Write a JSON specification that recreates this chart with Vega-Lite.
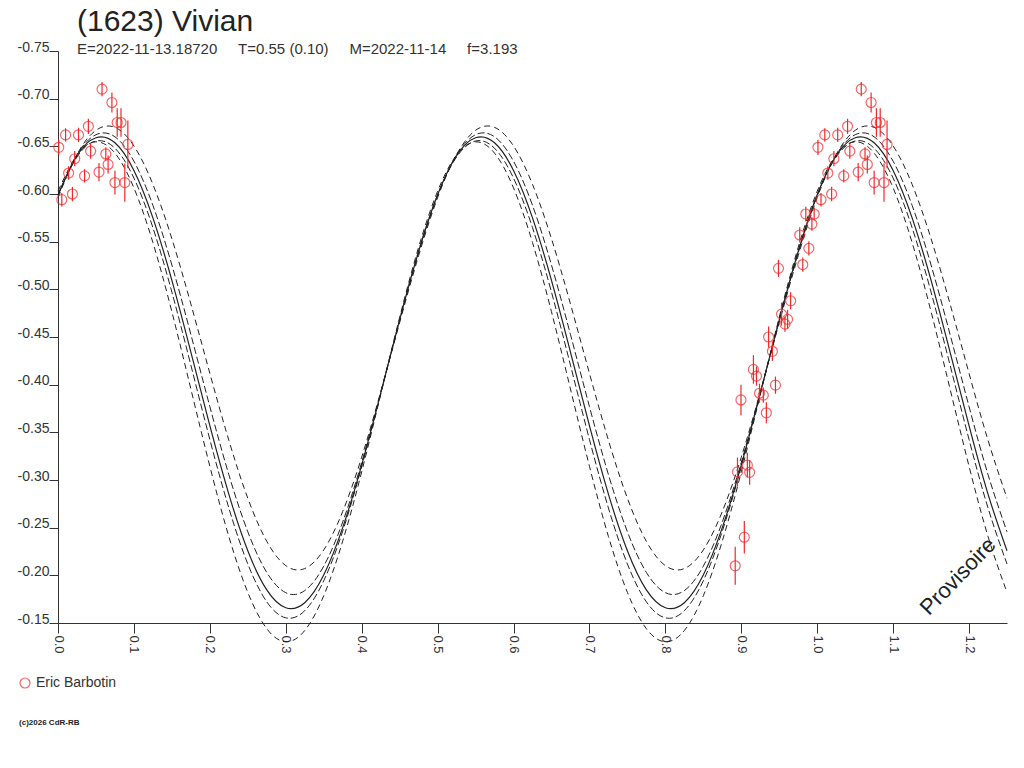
{
  "$schema": "https://vega.github.io/schema/vega-lite/v6.json",
  "autosize": {"type": "none"},
  "padding": {"left": 58, "top": 51, "right": 17, "bottom": 145},
  "width": 949,
  "height": 572,
  "background": "white",
  "title": {
    "text": "(1623) Vivian",
    "subtitle": "E=2022-11-13.18720\u00a0\u00a0\u00a0\u00a0\u00a0T=0.55 (0.10)\u00a0\u00a0\u00a0\u00a0\u00a0M=2022-11-14\u00a0\u00a0\u00a0\u00a0\u00a0f=3.193",
    "anchor": "start",
    "frame": "group",
    "dx": 19,
    "offset": -17,
    "font": "Liberation Sans",
    "fontSize": 30,
    "fontWeight": "normal",
    "color": "#222222",
    "subtitleFont": "Liberation Sans",
    "subtitleFontSize": 15,
    "subtitleColor": "#333333",
    "subtitlePadding": 5
  },
  "datasets": {
    "curve": [
      {"ph": 0.000, "s": -0.5992, "a": -0.5961, "b": -0.5983, "c": -0.5991, "d": -0.6029},
      {"ph": 0.025, "s": -0.6403, "a": -0.6414, "b": -0.6410, "c": -0.6388, "d": -0.6410},
      {"ph": 0.050, "s": -0.6590, "a": -0.6668, "b": -0.6622, "c": -0.6556, "d": -0.6547},
      {"ph": 0.075, "s": -0.6537, "a": -0.6699, "b": -0.6600, "c": -0.6480, "d": -0.6429},
      {"ph": 0.100, "s": -0.6247, "a": -0.6504, "b": -0.6344, "c": -0.6167, "d": -0.6064},
      {"ph": 0.125, "s": -0.5750, "a": -0.6101, "b": -0.5881, "c": -0.5647, "d": -0.5491},
      {"ph": 0.150, "s": -0.5094, "a": -0.5531, "b": -0.5255, "c": -0.4971, "d": -0.4765},
      {"ph": 0.175, "s": -0.4342, "a": -0.4847, "b": -0.4527, "c": -0.4205, "d": -0.3955},
      {"ph": 0.200, "s": -0.3570, "a": -0.4119, "b": -0.3770, "c": -0.3425, "d": -0.3144},
      {"ph": 0.225, "s": -0.2852, "a": -0.3417, "b": -0.3057, "c": -0.2707, "d": -0.2408},
      {"ph": 0.250, "s": -0.2258, "a": -0.2809, "b": -0.2457, "c": -0.2119, "d": -0.1821},
      {"ph": 0.275, "s": -0.1847, "a": -0.2356, "b": -0.2030, "c": -0.1722, "d": -0.1440},
      {"ph": 0.300, "s": -0.1660, "a": -0.2102, "b": -0.1818, "c": -0.1554, "d": -0.1303},
      {"ph": 0.325, "s": -0.1713, "a": -0.2071, "b": -0.1840, "c": -0.1629, "d": -0.1421},
      {"ph": 0.350, "s": -0.2003, "a": -0.2266, "b": -0.2096, "c": -0.1943, "d": -0.1786},
      {"ph": 0.375, "s": -0.2500, "a": -0.2669, "b": -0.2559, "c": -0.2463, "d": -0.2359},
      {"ph": 0.400, "s": -0.3156, "a": -0.3239, "b": -0.3185, "c": -0.3139, "d": -0.3085},
      {"ph": 0.425, "s": -0.3908, "a": -0.3923, "b": -0.3913, "c": -0.3905, "d": -0.3895},
      {"ph": 0.450, "s": -0.4680, "a": -0.4651, "b": -0.4670, "c": -0.4685, "d": -0.4706},
      {"ph": 0.475, "s": -0.5398, "a": -0.5353, "b": -0.5383, "c": -0.5403, "d": -0.5442},
      {"ph": 0.500, "s": -0.5992, "a": -0.5961, "b": -0.5983, "c": -0.5991, "d": -0.6029},
      {"ph": 0.525, "s": -0.6403, "a": -0.6414, "b": -0.6410, "c": -0.6388, "d": -0.6410},
      {"ph": 0.550, "s": -0.6590, "a": -0.6668, "b": -0.6622, "c": -0.6556, "d": -0.6547},
      {"ph": 0.575, "s": -0.6537, "a": -0.6699, "b": -0.6600, "c": -0.6480, "d": -0.6429},
      {"ph": 0.600, "s": -0.6247, "a": -0.6504, "b": -0.6344, "c": -0.6167, "d": -0.6064},
      {"ph": 0.625, "s": -0.5750, "a": -0.6101, "b": -0.5881, "c": -0.5647, "d": -0.5491},
      {"ph": 0.650, "s": -0.5094, "a": -0.5531, "b": -0.5255, "c": -0.4971, "d": -0.4765},
      {"ph": 0.675, "s": -0.4342, "a": -0.4847, "b": -0.4527, "c": -0.4205, "d": -0.3955},
      {"ph": 0.700, "s": -0.3570, "a": -0.4119, "b": -0.3770, "c": -0.3425, "d": -0.3144},
      {"ph": 0.725, "s": -0.2852, "a": -0.3417, "b": -0.3057, "c": -0.2707, "d": -0.2408},
      {"ph": 0.750, "s": -0.2258, "a": -0.2809, "b": -0.2457, "c": -0.2119, "d": -0.1821},
      {"ph": 0.775, "s": -0.1847, "a": -0.2356, "b": -0.2030, "c": -0.1722, "d": -0.1440},
      {"ph": 0.800, "s": -0.1660, "a": -0.2102, "b": -0.1818, "c": -0.1554, "d": -0.1303},
      {"ph": 0.825, "s": -0.1713, "a": -0.2071, "b": -0.1840, "c": -0.1629, "d": -0.1421},
      {"ph": 0.850, "s": -0.2003, "a": -0.2266, "b": -0.2096, "c": -0.1943, "d": -0.1786},
      {"ph": 0.875, "s": -0.2500, "a": -0.2669, "b": -0.2559, "c": -0.2463, "d": -0.2359},
      {"ph": 0.900, "s": -0.3156, "a": -0.3239, "b": -0.3185, "c": -0.3139, "d": -0.3085},
      {"ph": 0.925, "s": -0.3908, "a": -0.3923, "b": -0.3913, "c": -0.3905, "d": -0.3895},
      {"ph": 0.950, "s": -0.4680, "a": -0.4651, "b": -0.4670, "c": -0.4685, "d": -0.4706},
      {"ph": 0.975, "s": -0.5398, "a": -0.5353, "b": -0.5383, "c": -0.5403, "d": -0.5442},
      {"ph": 1.000, "s": -0.5992, "a": -0.5961, "b": -0.5983, "c": -0.5991, "d": -0.6029},
      {"ph": 1.025, "s": -0.6403, "a": -0.6414, "b": -0.6410, "c": -0.6388, "d": -0.6410},
      {"ph": 1.050, "s": -0.6590, "a": -0.6668, "b": -0.6622, "c": -0.6556, "d": -0.6547},
      {"ph": 1.075, "s": -0.6537, "a": -0.6699, "b": -0.6600, "c": -0.6480, "d": -0.6429},
      {"ph": 1.100, "s": -0.6247, "a": -0.6504, "b": -0.6344, "c": -0.6167, "d": -0.6064},
      {"ph": 1.125, "s": -0.5750, "a": -0.6101, "b": -0.5881, "c": -0.5647, "d": -0.5491},
      {"ph": 1.150, "s": -0.5094, "a": -0.5531, "b": -0.5255, "c": -0.4971, "d": -0.4765},
      {"ph": 1.175, "s": -0.4342, "a": -0.4847, "b": -0.4527, "c": -0.4205, "d": -0.3955},
      {"ph": 1.200, "s": -0.3570, "a": -0.4119, "b": -0.3770, "c": -0.3425, "d": -0.3144},
      {"ph": 1.225, "s": -0.2852, "a": -0.3417, "b": -0.3057, "c": -0.2707, "d": -0.2408},
      {"ph": 1.250, "s": -0.2258, "a": -0.2809, "b": -0.2457, "c": -0.2119, "d": -0.1821}
    ],
    "obs": [
      {"phase": 1.058, "mag": -0.710, "err": 0.0075, "observer": "Eric Barbotin"},
      {"phase": 1.071, "mag": -0.696, "err": 0.0105, "observer": "Eric Barbotin"},
      {"phase": 1.078, "mag": -0.675, "err": 0.015, "observer": "Eric Barbotin"},
      {"phase": 1.083, "mag": -0.675, "err": 0.015, "observer": "Eric Barbotin"},
      {"phase": 1.040, "mag": -0.671, "err": 0.008, "observer": "Eric Barbotin"},
      {"phase": 1.010, "mag": -0.662, "err": 0.007, "observer": "Eric Barbotin"},
      {"phase": 1.027, "mag": -0.662, "err": 0.0075, "observer": "Eric Barbotin"},
      {"phase": 1.001, "mag": -0.649, "err": 0.008, "observer": "Eric Barbotin"},
      {"phase": 1.092, "mag": -0.652, "err": 0.025, "observer": "Eric Barbotin"},
      {"phase": 1.043, "mag": -0.645, "err": 0.008, "observer": "Eric Barbotin"},
      {"phase": 1.063, "mag": -0.642, "err": 0.007, "observer": "Eric Barbotin"},
      {"phase": 1.022, "mag": -0.637, "err": 0.008, "observer": "Eric Barbotin"},
      {"phase": 1.066, "mag": -0.631, "err": 0.0095, "observer": "Eric Barbotin"},
      {"phase": 1.014, "mag": -0.622, "err": 0.007, "observer": "Eric Barbotin"},
      {"phase": 1.035, "mag": -0.619, "err": 0.007, "observer": "Eric Barbotin"},
      {"phase": 1.054, "mag": -0.623, "err": 0.0095, "observer": "Eric Barbotin"},
      {"phase": 1.075, "mag": -0.612, "err": 0.0125, "observer": "Eric Barbotin"},
      {"phase": 1.088, "mag": -0.612, "err": 0.020, "observer": "Eric Barbotin"},
      {"phase": 1.019, "mag": -0.600, "err": 0.0075, "observer": "Eric Barbotin"},
      {"phase": 1.005, "mag": -0.594, "err": 0.007, "observer": "Eric Barbotin"},
      {"phase": 0.058, "mag": -0.710, "err": 0.0075, "observer": "Eric Barbotin"},
      {"phase": 0.071, "mag": -0.696, "err": 0.0105, "observer": "Eric Barbotin"},
      {"phase": 0.078, "mag": -0.675, "err": 0.015, "observer": "Eric Barbotin"},
      {"phase": 0.083, "mag": -0.675, "err": 0.015, "observer": "Eric Barbotin"},
      {"phase": 0.040, "mag": -0.671, "err": 0.008, "observer": "Eric Barbotin"},
      {"phase": 0.010, "mag": -0.662, "err": 0.007, "observer": "Eric Barbotin"},
      {"phase": 0.027, "mag": -0.662, "err": 0.0075, "observer": "Eric Barbotin"},
      {"phase": 0.001, "mag": -0.649, "err": 0.008, "observer": "Eric Barbotin"},
      {"phase": 0.092, "mag": -0.652, "err": 0.025, "observer": "Eric Barbotin"},
      {"phase": 0.043, "mag": -0.645, "err": 0.008, "observer": "Eric Barbotin"},
      {"phase": 0.063, "mag": -0.642, "err": 0.007, "observer": "Eric Barbotin"},
      {"phase": 0.022, "mag": -0.637, "err": 0.008, "observer": "Eric Barbotin"},
      {"phase": 0.066, "mag": -0.631, "err": 0.0095, "observer": "Eric Barbotin"},
      {"phase": 0.014, "mag": -0.622, "err": 0.007, "observer": "Eric Barbotin"},
      {"phase": 0.035, "mag": -0.619, "err": 0.007, "observer": "Eric Barbotin"},
      {"phase": 0.054, "mag": -0.623, "err": 0.0095, "observer": "Eric Barbotin"},
      {"phase": 0.075, "mag": -0.612, "err": 0.0125, "observer": "Eric Barbotin"},
      {"phase": 0.088, "mag": -0.612, "err": 0.020, "observer": "Eric Barbotin"},
      {"phase": 0.019, "mag": -0.600, "err": 0.0075, "observer": "Eric Barbotin"},
      {"phase": 0.005, "mag": -0.594, "err": 0.007, "observer": "Eric Barbotin"},
      {"phase": 0.985, "mag": -0.579, "err": 0.0075, "observer": "Eric Barbotin"},
      {"phase": 0.996, "mag": -0.579, "err": 0.0065, "observer": "Eric Barbotin"},
      {"phase": 0.993, "mag": -0.5685, "err": 0.007, "observer": "Eric Barbotin"},
      {"phase": 0.977, "mag": -0.557, "err": 0.008, "observer": "Eric Barbotin"},
      {"phase": 0.989, "mag": -0.543, "err": 0.0075, "observer": "Eric Barbotin"},
      {"phase": 0.981, "mag": -0.526, "err": 0.0075, "observer": "Eric Barbotin"},
      {"phase": 0.949, "mag": -0.522, "err": 0.009, "observer": "Eric Barbotin"},
      {"phase": 0.965, "mag": -0.488, "err": 0.009, "observer": "Eric Barbotin"},
      {"phase": 0.953, "mag": -0.474, "err": 0.012, "observer": "Eric Barbotin"},
      {"phase": 0.961, "mag": -0.4685, "err": 0.010, "observer": "Eric Barbotin"},
      {"phase": 0.9575, "mag": -0.4635, "err": 0.008, "observer": "Eric Barbotin"},
      {"phase": 0.936, "mag": -0.450, "err": 0.011, "observer": "Eric Barbotin"},
      {"phase": 0.941, "mag": -0.435, "err": 0.010, "observer": "Eric Barbotin"},
      {"phase": 0.916, "mag": -0.416, "err": 0.015, "observer": "Eric Barbotin"},
      {"phase": 0.920, "mag": -0.409, "err": 0.010, "observer": "Eric Barbotin"},
      {"phase": 0.945, "mag": -0.3995, "err": 0.009, "observer": "Eric Barbotin"},
      {"phase": 0.924, "mag": -0.391, "err": 0.010, "observer": "Eric Barbotin"},
      {"phase": 0.929, "mag": -0.389, "err": 0.008, "observer": "Eric Barbotin"},
      {"phase": 0.8996, "mag": -0.384, "err": 0.016, "observer": "Eric Barbotin"},
      {"phase": 0.933, "mag": -0.3705, "err": 0.011, "observer": "Eric Barbotin"},
      {"phase": 0.908, "mag": -0.3156, "err": 0.013, "observer": "Eric Barbotin"},
      {"phase": 0.895, "mag": -0.3085, "err": 0.015, "observer": "Eric Barbotin"},
      {"phase": 0.911, "mag": -0.308, "err": 0.013, "observer": "Eric Barbotin"},
      {"phase": 0.904, "mag": -0.240, "err": 0.017, "observer": "Eric Barbotin"},
      {"phase": 0.892, "mag": -0.210, "err": 0.020, "observer": "Eric Barbotin"}
    ]
  },
  "layer": [
    {
      "data": {"name": "curve"},
      "mark": {"type": "line", "interpolate": "natural", "color": "#222222", "strokeWidth": 1, "strokeDash": [6, 4]},
      "encoding": {
        "x": {
          "field": "ph", "type": "quantitative", "title": null,
          "scale": {"domain": [0, 1.25], "nice": false, "zero": false},
          "axis": {
            "values": [0, 0.05, 0.1, 0.15, 0.2, 0.25, 0.3, 0.35, 0.4, 0.45, 0.5, 0.55, 0.6, 0.65, 0.7, 0.75, 0.8, 0.85, 0.9, 0.95, 1.0, 1.05, 1.1, 1.15, 1.2, 1.25],
            "labelExpr": "abs(datum.value * 10 - round(datum.value * 10)) < 0.001 ? format(datum.value, '.1f') : ''",
            "labelAngle": 90,
            "labelAlign": "left",
            "labelBaseline": "middle",
            "labelPadding": 2,
            "labelFlush": false,
            "labelOverlap": false,
            "labelFont": "Liberation Sans",
            "labelFontSize": 13,
            "labelColor": "#333333",
            "tickSize": 10,
            "tickColor": "#333333",
            "domainColor": "#333333",
            "grid": false
          }
        },
        "y": {
          "field": "a", "type": "quantitative", "title": null,
          "scale": {"domain": [-0.75, -0.15], "reverse": true, "nice": false, "zero": false},
          "axis": {
            "values": [-0.75, -0.7, -0.65, -0.6, -0.55, -0.5, -0.45, -0.4, -0.35, -0.3, -0.25, -0.2, -0.15],
            "labelExpr": "'-' + format(abs(datum.value), '.2f')",
            "labelBaseline": "alphabetic",
            "labelPadding": 0,
            "labelFont": "Liberation Sans",
            "labelFontSize": 14,
            "labelColor": "#333333",
            "tickSize": 9,
            "tickColor": "#333333",
            "domainColor": "#333333",
            "grid": false
          }
        }
      }
    },
    {
      "data": {"name": "curve"},
      "mark": {"type": "line", "interpolate": "natural", "color": "#222222", "strokeWidth": 1, "strokeDash": [7, 3]},
      "encoding": {
        "x": {"field": "ph", "type": "quantitative", "title": null},
        "y": {"field": "b", "type": "quantitative", "title": null}
      }
    },
    {
      "data": {"name": "curve"},
      "mark": {"type": "line", "interpolate": "natural", "color": "#222222", "strokeWidth": 1, "strokeDash": [7, 3]},
      "encoding": {
        "x": {"field": "ph", "type": "quantitative", "title": null},
        "y": {"field": "c", "type": "quantitative", "title": null}
      }
    },
    {
      "data": {"name": "curve"},
      "mark": {"type": "line", "interpolate": "natural", "color": "#222222", "strokeWidth": 1, "strokeDash": [6, 4]},
      "encoding": {
        "x": {"field": "ph", "type": "quantitative", "title": null},
        "y": {"field": "d", "type": "quantitative", "title": null}
      }
    },
    {
      "data": {"name": "curve"},
      "mark": {"type": "line", "interpolate": "natural", "color": "#222222", "strokeWidth": 1.2},
      "encoding": {
        "x": {"field": "ph", "type": "quantitative", "title": null},
        "y": {"field": "s", "type": "quantitative", "title": null}
      }
    },
    {
      "data": {"name": "obs"},
      "mark": {"type": "errorbar", "color": "#f02828", "thickness": 1.2},
      "encoding": {
        "x": {"field": "phase", "type": "quantitative", "title": null},
        "y": {"field": "mag", "type": "quantitative", "title": null},
        "yError": {"field": "err"}
      }
    },
    {
      "data": {"name": "obs"},
      "mark": {"type": "point", "shape": "circle", "filled": false, "size": 100, "strokeWidth": 1.2},
      "encoding": {
        "x": {"field": "phase", "type": "quantitative", "title": null},
        "y": {"field": "mag", "type": "quantitative", "title": null},
        "color": {
          "field": "observer", "type": "nominal",
          "scale": {"range": ["#f02828"]},
          "legend": {
            "orient": "none", "legendX": -40, "legendY": 625, "title": null, "padding": 0,
            "labelFont": "Liberation Sans", "labelFontSize": 14, "labelColor": "#333333",
            "symbolSize": 100, "symbolStrokeWidth": 1.2, "symbolType": "circle"
          }
        }
      }
    },
    {
      "data": {"values": [{"note": "Provisoire"}]},
      "mark": {"type": "text", "angle": -46, "align": "center", "baseline": "middle", "font": "Liberation Sans", "fontSize": 22, "color": "#222222"},
      "encoding": {
        "text": {"field": "note"},
        "x": {"datum": 1.1855, "type": "quantitative"},
        "y": {"datum": -0.199, "type": "quantitative"}
      }
    },
    {
      "data": {"values": [{"note": "(c)2026 CdR-RB"}]},
      "mark": {"type": "text", "align": "left", "baseline": "middle", "font": "Liberation Sans", "fontSize": 8, "fontWeight": "bold", "color": "#222222"},
      "encoding": {
        "text": {"field": "note"},
        "x": {"datum": -0.0513, "type": "quantitative"},
        "y": {"datum": -0.045, "type": "quantitative"}
      }
    }
  ],
  "config": {
    "view": {"stroke": null}
  }
}
